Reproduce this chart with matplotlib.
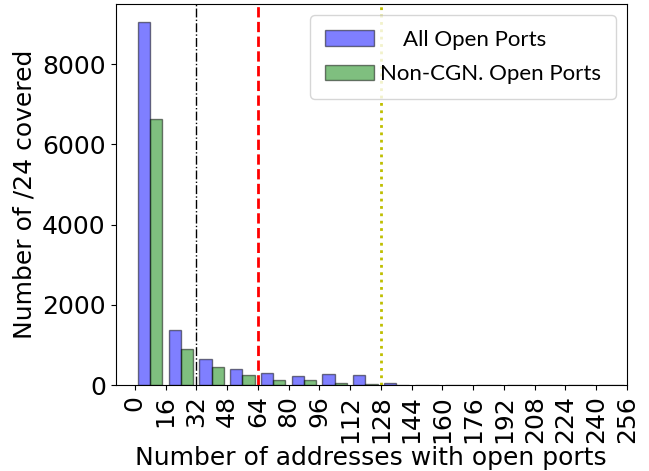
import matplotlib
matplotlib.use("Agg")
import matplotlib.pyplot as plt
import numpy as np

# bins of 16 addresses, 0..256
BIN_EDGES = list(range(0, 257, 16))
ALL_OPEN = [9040, 1380, 650, 400, 310, 230, 290, 250, 55, 8, 5, 4, 4, 3, 3, 2]
NON_CGN = [6640, 905, 460, 260, 130, 130, 60, 20, 3, 2, 1, 1, 1, 1, 1, 1]
X_TICKS = list(range(0, 257, 16))
THRESH_32 = 32
THRESH_64 = 64
THRESH_128 = 128

fig, ax = plt.subplots(figsize=(6.49, 4.71), dpi=100)

centers = np.array(BIN_EDGES[:-1]) + 8
ax.hist(
    [centers, centers],
    bins=BIN_EDGES,
    weights=[ALL_OPEN, NON_CGN],
    color=["b", "g"],
    alpha=0.5,
    edgecolor="k",
    linewidth=1.0,
    label=["    All Open Ports", "Non-CGN. Open Ports"],
)

ax.axvline(THRESH_32, color="k", linestyle="-.", linewidth=1.0)
ax.axvline(THRESH_64, color="r", linestyle="--", linewidth=2.0)
ax.axvline(THRESH_128, color="y", linestyle=":", linewidth=2.0)

ax.set_xlim(-10, 256)
ax.set_xticks(X_TICKS)
ax.set_xticklabels([str(t) for t in X_TICKS], rotation=90)
ax.set_yticks([0, 2000, 4000, 6000, 8000])
ax.tick_params(labelsize=18)
ax.set_xlabel("Number of addresses with open ports", fontsize=18, labelpad=2)
ax.set_ylabel("Number of /24 covered", fontsize=18)

ax.legend(
    loc="upper right",
    prop={"family": "Lato", "size": 16},
    handlelength=2.2,
    handletextpad=0.3,
    labelspacing=0.65,
    borderpad=0.65,
)

fig.subplots_adjust(left=0.178, right=0.966, top=0.991, bottom=0.182)
fig.savefig("out.png", dpi=100)
